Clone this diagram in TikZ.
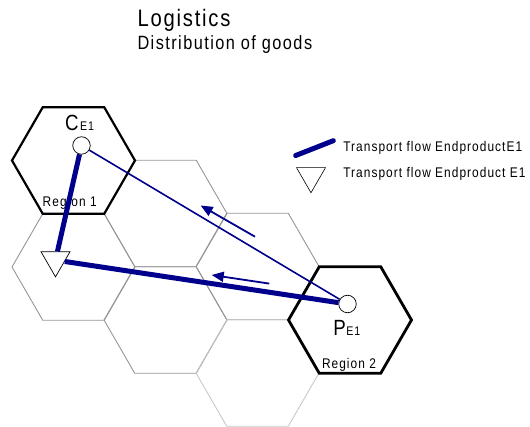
\documentclass[tikz,border=0pt]{standalone}
\usepackage{fontspec}
\setmainfont{Liberation Sans}[FakeStretch=0.85,LetterSpace=7.5]
\usetikzlibrary{shapes.geometric,arrows.meta}
\definecolor{flowblue}{RGB}{0,0,140}
\definecolor{gridgray}{RGB}{150,150,150}
\definecolor{gridlight}{RGB}{200,200,200}
\newcommand{\fsz}[1]{\fontsize{#1}{#1}\selectfont}
\begin{document}
\begin{tikzpicture}[x=1pt,y=-1pt,
  hexcell/.style={regular polygon, regular polygon sides=6, minimum size=123pt,
    inner sep=0pt, outer sep=0pt, draw=gridgray, line width=0.9pt},
  hexlight/.style={hexcell, draw=gridlight},
  regionhex/.style={hexcell, draw=black, line width=2.4pt},
  site/.style={circle, draw=black, fill=white, line width=0.7pt, minimum size=17.5pt, inner sep=0pt},
  depot/.style={regular polygon, regular polygon sides=3, shape border rotate=180,
    draw=black, fill=white, line width=0.7pt, minimum size=33.5pt, inner sep=0pt},
  thickflow/.style={draw=flowblue, line width=5pt},
  thinflow/.style={draw=flowblue, line width=1.6pt},
  dirarrow/.style={draw=flowblue, line width=1.8pt, -{Triangle[length=12pt,width=10pt]}},
  txt/.style={anchor=base west, inner sep=0pt, outer sep=0pt}
]
\useasboundingbox (0,0) rectangle (530,427);

% hexagonal grid
\node[hexcell]  (h1) at (73.5,267) {};
\node[hexcell]  (h2) at (165.5,213.5) {};
\node[hexcell]  (h3) at (165.5,320) {};
\node[hexcell]  (h4) at (257.5,266.5) {};
\node[hexlight] (h5) at (257.5,373) {};

% regions
\node[regionhex, line width=2.2pt] (r1) at (73.5,160.5) {};
\node[regionhex, line width=2.8pt] (r2) at (350,320) {};
\node[txt] (r1lbl) at (42.7,206.7) {\fsz{14}Region 1};
\node[txt] (r2lbl) at (322,368.3) {\fsz{14}Region 2};

% sites
\node[site] (c) at (81.5,145.5) {};
\node[site] (p) at (347.5,304) {};
\node[depot] (t) at (55.5,260.1) {};

% flows
\draw[thinflow] (c) -- (p);
\draw[thickflow] (c) -- (t);
\draw[thickflow] (t) -- (p);

\coordinate (a1s) at (255,236.7);
\coordinate (a1e) at (200.7,205.5);
\coordinate (a2s) at (269.3,283.6);
\coordinate (a2e) at (211.7,275);
\draw[dirarrow] (a1s) -- (a1e);
\draw[dirarrow] (a2s) -- (a2e);

% site labels
\node[txt] (clbl) at (65,130.7) {\fsz{22}C\hspace{1.5pt}\fsz{12.5}E1};
\node[txt] (plbl) at (333.3,336) {\fsz{22}P\hspace{0.5pt}\fsz{12.5}E1};

% title
\node[txt] (title) at (137.5,26.5) {\fsz{23.8}Logistics};
\node[txt] (subtitle) at (137.5,49.5) {\fsz{19.2}Distribution of goods};

% legend
\coordinate (lg1) at (295.7,155.5);
\coordinate (lg2) at (333.3,140.7);
\draw[thickflow, line cap=round] (lg1) -- (lg2);
\node[depot, line width=0.6pt] (lgt) at (311,176) {};
\node[txt] (lgtxt1) at (343.3,151.7) {\fsz{14}Transport flow EndproductE1};
\node[txt] (lgtxt2) at (343.3,177.3) {\fsz{14}Transport flow Endproduct E1};
\end{tikzpicture}
\end{document}
